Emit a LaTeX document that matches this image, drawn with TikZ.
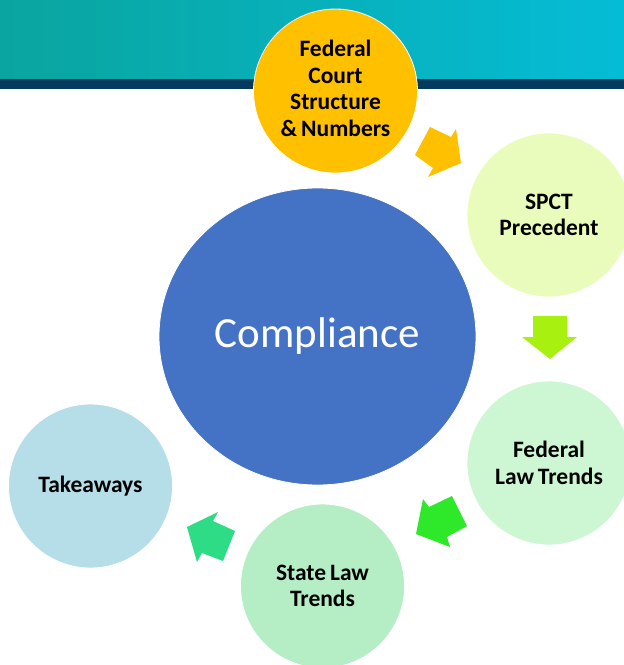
\documentclass[tikz,border=0pt]{standalone}
\usepackage{fontspec}
\setmainfont{Carlito}
\usetikzlibrary{shapes.geometric}
\definecolor{tealL}{HTML}{0AA59F}
\definecolor{tealR}{HTML}{05BCD6}
\definecolor{navy}{HTML}{043A5E}
\definecolor{cOrange}{HTML}{FFC000}
\definecolor{cSpct}{HTML}{EAFCBB}
\definecolor{cFed}{HTML}{CCF7D2}
\definecolor{cState}{HTML}{B5EEC5}
\definecolor{cTake}{HTML}{B6DEE8}
\definecolor{cBlue}{HTML}{4472C4}
\definecolor{aLime}{HTML}{A8F00F}
\definecolor{aGreen}{HTML}{2EE82A}
\definecolor{aTeal}{HTML}{2EDC86}
\tikzset{
  topic/.style={circle, minimum size=164pt, inner sep=0pt, draw=white, line width=0.8pt,
    align=center, text=black, font=\bfseries\fontsize{23.5}{26.5}\selectfont},
  blockarrow/.style={draw=none}
}
\begin{document}
\begin{tikzpicture}[x=1pt,y=-1pt]
\useasboundingbox (0,0) rectangle (624,665);
\fill[white] (0,0) rectangle (624,665);
% banner
\shade[left color=tealL, right color=tealR] (0,0) rectangle (624,79);
\fill[navy] (0,79) rectangle (624,89);
% center ellipse
\node[ellipse, fill=cBlue, draw=white, line width=0.8pt, minimum width=317pt, minimum height=297pt, inner sep=0pt,
  text=white, font=\fontsize{43}{50}\selectfont] (comp) at (317.5,336.5) {Compliance};
% topics
\node[topic, fill=cOrange] (fcs) at (335.5,91) {\raisebox{3pt}{\begin{tabular}{@{}c@{}}Federal\\Court\\Structure\\\&\,Numbers\end{tabular}}};
\node[topic, fill=cSpct] (spct) at (549,215) {SPCT\\Precedent};
\node[topic, fill=cFed] (flt) at (549,463) {Federal\\Law\,Trends};
\node[topic, fill=cState] (slt) at (322.5,586) {State\,Law\\Trends};
\node[topic, fill=cTake] (take) at (90.5,486) {Takeaways};
% block arrows
\fill[cOrange, blockarrow] (430,127) -- (451,137) -- (456,129) -- (461,163) -- (428,177) -- (433,168) -- (415,155) -- cycle;
\fill[aLime, blockarrow] (533,316) -- (567,316) -- (567,337) -- (577,337) -- (550,359) -- (522,337) -- (533,337) -- cycle;
\fill[aGreen, blockarrow] (423,499) -- (429,507) -- (452,496) -- (467,526) -- (447,537) -- (450,547) -- (416,534) -- cycle;
\fill[aTeal, blockarrow] (218,512) -- (213,521) -- (235,531) -- (223,561) -- (202,553) -- (197,562) -- (187,527) -- cycle;
\end{tikzpicture}
\end{document}
